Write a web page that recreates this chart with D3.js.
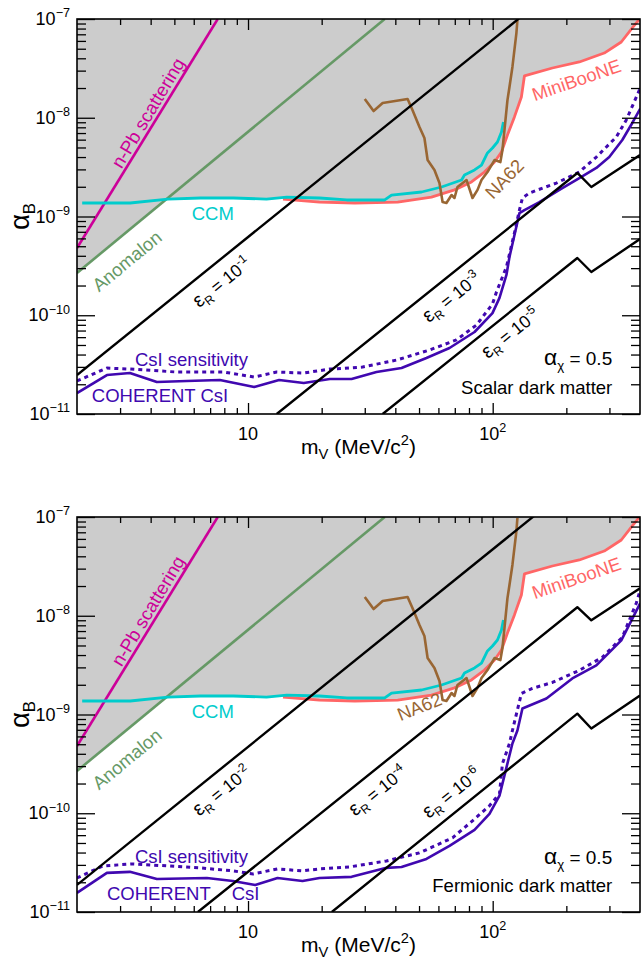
<!DOCTYPE html>
<html>
<head>
<meta charset="utf-8">
<script src="https://cdn.jsdelivr.net/npm/d3@7"></script>
<style>
  body { margin: 0; background: #fff; }
  svg { display: block; font-family: "Liberation Sans", Arial, Helvetica, sans-serif; }
</style>
</head>
<body>
<div id="chart"></div>
<script>
// axis ranges and tick labels
const massDomain = [2, 400];
const alphaDomain = [1e-11, 1e-7];
const massMajorTicks = [10, 100];
const massTickLabels = [["10", null], ["10", "2"]];
const alphaMajorTicks = [1e-11, 1e-10, 1e-9, 1e-8, 1e-7];
const alphaTickLabels = ["−11", "−10", "−9", "−8", "−7"];

// existing constraints, [m_V (MeV), alpha_B] (same in both panels)
const nPbScattering = [[2, 4.8e-10], [7.52, 1.0e-7]];
const anomalon = [[2, 2.68e-10], [36.2, 1.0e-7]];
const ccm = [[2.1, 1.37e-9], [3.3, 1.37e-9], [4.7, 1.50e-9], [6.4, 1.54e-9], [8.7, 1.54e-9], [11.9, 1.50e-9],
  [14.4, 1.57e-9], [19.6, 1.54e-9], [25.3, 1.47e-9], [36.2, 1.47e-9], [38.6, 1.65e-9], [51.2, 1.77e-9],
  [61.8, 1.99e-9], [74.6, 2.34e-9], [76.7, 2.63e-9], [84.3, 2.96e-9], [90.0, 3.32e-9], [95.2, 4.40e-9],
  [99.8, 4.94e-9], [104.6, 5.68e-9], [108.6, 7.17e-9], [110.6, 9.06e-9]];
const miniBooNE = [[13.9, 1.50e-9], [19.6, 1.40e-9], [27.3, 1.37e-9], [40.9, 1.40e-9], [56.2, 1.57e-9],
  [69.8, 1.86e-9], [81.9, 2.24e-9], [92.5, 2.82e-9], [101.7, 3.56e-9], [108.6, 4.50e-9], [114.9, 6.69e-9],
  [122.7, 1.02e-8], [131.0, 1.62e-8], [134.8, 2.65e-8], [175.4, 3.19e-8], [226, 3.67e-8], [285.8, 4.52e-8],
  [335.4, 5.85e-8], [372, 8.11e-8], [401, 1.02e-7]];
const na62 = [[30.0, 1.55e-8], [32.6, 1.17e-8], [35.5, 1.41e-8], [44.9, 1.55e-8], [47.0, 1.20e-8],
  [50.2, 8.06e-9], [52.6, 6.24e-9], [54.2, 3.73e-9], [57.8, 2.96e-9], [60.6, 2.18e-9], [62.4, 1.40e-9],
  [64.7, 1.37e-9], [67.9, 1.65e-9], [69.8, 1.54e-9], [71.8, 1.99e-9], [78.2, 2.34e-9], [82.7, 1.54e-9],
  [86.7, 1.86e-9], [90.0, 2.34e-9], [95.2, 2.82e-9], [101.7, 3.73e-9], [107.5, 3.56e-9], [109.6, 4.71e-9],
  [111.7, 7.51e-9], [114.9, 1.51e-8], [117.1, 2.05e-8], [120.4, 3.27e-8], [125.0, 7.21e-8], [126.2, 9.77e-8]];

// COHERENT CsI limit and sensitivity, scalar dark matter
const coherentScalar = [[2.0, 1.63e-11], [2.65, 2.48e-11], [3.29, 2.60e-11], [4.24, 2.11e-11], [5.62, 2.16e-11],
  [7.67, 2.21e-11], [10.6, 1.88e-11], [13.4, 2.21e-11], [16.9, 2.06e-11], [21.6, 2.26e-11], [26.5, 2.26e-11],
  [33.5, 2.66e-11], [42.4, 2.92e-11], [53.6, 3.69e-11], [66.6, 4.66e-11], [84.3, 6.77e-11], [99.8, 1.05e-10],
  [106.6, 1.50e-10], [113.8, 2.56e-10], [117.1, 3.89e-10], [128.6, 1.08e-9], [134.8, 1.16e-9], [155.2, 1.40e-9],
  [187.3, 1.86e-9], [226, 2.45e-9], [265.2, 3.10e-9], [299.6, 4.00e-9], [338.6, 5.95e-9], [372, 8.85e-9],
  [401, 1.24e-8]];
const sensitivityScalar = [[2.0, 2.16e-11], [2.65, 2.92e-11], [3.29, 2.85e-11], [5.12, 2.66e-11], [7.96, 2.66e-11],
  [10.6, 2.37e-11], [13.1, 2.66e-11], [16.9, 2.60e-11], [21.6, 2.85e-11], [29.4, 2.99e-11], [40.5, 3.52e-11],
  [55.2, 4.45e-11], [71.1, 5.62e-11], [85.8, 7.96e-11], [99.8, 1.30e-10], [103.6, 1.72e-10], [113.8, 3.08e-10],
  [122.7, 6.81e-10], [128.6, 1.16e-9], [132.3, 1.54e-9], [141.3, 1.73e-9], [182, 2.18e-9], [226, 2.82e-9],
  [265.2, 4.00e-9], [320, 6.38e-9], [351.6, 9.49e-9], [401, 2.0e-8]];

// COHERENT CsI limit and sensitivity, fermionic dark matter
const coherentFermion = [[2.0, 1.56e-11], [2.65, 2.49e-11], [3.29, 2.55e-11], [4.24, 2.16e-11], [6.79, 2.21e-11],
  [8.67, 2.06e-11], [10.7, 1.88e-11], [13.2, 2.21e-11], [16.7, 2.06e-11], [19.6, 2.21e-11], [26.5, 2.27e-11],
  [36.8, 2.80e-11], [42.4, 2.86e-11], [53.6, 3.45e-11], [66.6, 4.68e-11], [84.3, 6.80e-11], [97.0, 9.88e-11],
  [106.6, 1.51e-10], [113.8, 2.90e-10], [120.4, 5.08e-10], [126.2, 6.88e-10], [132.3, 1.15e-9], [165.8, 1.45e-9],
  [211.6, 2.32e-9], [265.2, 3.14e-9], [335.4, 5.64e-9], [401, 1.34e-8]];
const sensitivityFermion = [[2.0, 2.21e-11], [2.55, 2.93e-11], [3.39, 3.07e-11], [6.35, 2.80e-11], [8.67, 2.61e-11],
  [10.5, 2.43e-11], [13.2, 2.73e-11], [16.7, 2.61e-11], [19.6, 2.73e-11], [26.0, 2.86e-11], [36.8, 3.29e-11],
  [50.2, 3.97e-11], [68.5, 5.64e-11], [82.7, 8.39e-11], [97.0, 1.19e-10], [106.6, 1.58e-10], [109.6, 3.18e-10],
  [117.1, 5.08e-10], [120.4, 6.88e-10], [131.0, 1.63e-9], [145.3, 1.84e-9], [175.4, 2.11e-9], [226, 2.80e-9],
  [280.5, 3.79e-9], [338.6, 6.05e-9], [386.1, 1.34e-8], [401, 1.82e-8]];

// relic density lines for several epsilon_R values
const epsScalar = [
  { exp: "-1", points: [[2, 2.48e-11], [128.6, 1.02e-7]] },
  { exp: "-3", points: [[13.1, 1e-11], [221.8, 2.76e-9], [253, 1.99e-9], [400, 4.2e-9]] },
  { exp: "-5", points: [[35.5, 1e-11], [221.8, 3.80e-10], [253, 2.74e-10], [400, 5.92e-10]] }
];
const epsFermion = [
  { exp: "-2", points: [[2, 1.88e-11], [150.8, 1.07e-7]] },
  { exp: "-4", points: [[6.24, 1e-11], [221.8, 1.22e-8], [253, 9.0e-9], [400, 1.90e-8]] },
  { exp: "-6", points: [[22.0, 1e-11], [221.8, 1.02e-9], [253, 7.21e-10], [400, 1.56e-9]] }
];

// colours
const colors = {
  nPb: "#cc0099", anomalon: "#669966", ccm: "#00cccc", miniBooNE: "#ff6666",
  na62: "#996633", coherent: "#4008b0", excluded: "#cccccc"
};

const width = 641, height = 961;
const margin = { left: 77 };
const plotW = 563, plotH = 395;
const labelSize = 18.5;

const svg = d3.select("#chart").append("svg")
  .attr("width", width)
  .attr("height", height);

const x = d3.scaleLog().domain(massDomain).range([0, plotW]);
const y = d3.scaleLog().domain(alphaDomain).range([plotH, 0]);

const line = d3.line().x(d => x(d[0])).y(d => y(d[1]));
const areaAbove = d3.area().x(d => x(d[0])).y0(0).y1(d => y(d[1]));

// text with sub/superscripts: parts = [[text, "sup"|"sub"|null, sizeScale]]
function richText(sel, parts, size) {
  let shift = 0;
  parts.forEach(([t, kind, scale]) => {
    let target = 0, fs = size * (scale || 1);
    if (kind === "sup") { target = -0.42 * size; fs = size * 0.7; }
    if (kind === "sub") { target = 0.25 * size; fs = size * 0.7; }
    sel.append("tspan").attr("dy", target - shift).attr("font-size", fs).text(t);
    shift = target;
  });
  return sel;
}

function label(g, { parts, m, a, angle = 0, color = "#000", size = labelSize, anchor = "middle", baseline = false }) {
  const t = g.append("text")
    .attr("transform", `translate(${x(m)},${y(a)}) rotate(${angle})`)
    .attr("y", baseline ? 0 : 0.35 * size)
    .attr("text-anchor", anchor)
    .attr("fill", color)
    .attr("font-size", size);
  richText(t, parts, size);
}

function drawPanel(cfg) {
  const g = svg.append("g").attr("transform", `translate(${margin.left},${cfg.top})`);

  g.append("clipPath").attr("id", `clip-${cfg.id}`)
    .append("rect").attr("width", plotW).attr("height", plotH);
  const plot = g.append("g").attr("clip-path", `url(#clip-${cfg.id})`);

  // excluded region: everything above anomalon / CCM / MiniBooNE
  [anomalon, ccm, miniBooNE].forEach(c => {
    plot.append("path").attr("d", areaAbove(c)).attr("fill", colors.excluded);
  });

  const curve = (data, color, w = 2.6, dash = null) => plot.append("path")
    .attr("d", line(data))
    .attr("fill", "none")
    .attr("stroke", color)
    .attr("stroke-width", w)
    .attr("stroke-dasharray", dash)
    .attr("stroke-linejoin", "round");

  curve(nPbScattering, colors.nPb);
  curve(anomalon, colors.anomalon);
  curve(miniBooNE, colors.miniBooNE, 2.8);
  curve(ccm, colors.ccm, 2.8);
  curve(na62, colors.na62);
  curve(cfg.sensitivity, colors.coherent, 3, "4,4");
  curve(cfg.coherent, colors.coherent, 2.6);
  cfg.eps.forEach(e => curve(e.points, "#000", 2.4));

  // ticks on all four sides, pointing inwards
  const tickGroup = (axis, tr) => {
    const a = g.append("g").attr("transform", tr).call(axis);
    a.select(".domain").remove();
    a.selectAll("text").remove();
    a.selectAll("line").attr("stroke", "#000").attr("stroke-width", 1.3);
  };
  const massMinor = x.ticks().filter(v => !massMajorTicks.includes(v) && v > massDomain[0] && v < massDomain[1]);
  const alphaMinor = y.ticks().filter(v => !alphaMajorTicks.some(t => Math.abs(t - v) / t < 1e-6));

  tickGroup(d3.axisBottom(x).tickValues(massMajorTicks).tickSize(-11), `translate(0,${plotH})`);
  tickGroup(d3.axisBottom(x).tickValues(massMinor).tickSize(-6), `translate(0,${plotH})`);
  tickGroup(d3.axisTop(x).tickValues(massMajorTicks).tickSize(-11), "translate(0,0)");
  tickGroup(d3.axisTop(x).tickValues(massMinor).tickSize(-6), "translate(0,0)");
  tickGroup(d3.axisLeft(y).tickValues(alphaMajorTicks).tickSize(-18), "translate(0,0)");
  tickGroup(d3.axisLeft(y).tickValues(alphaMinor).tickSize(-9), "translate(0,0)");
  tickGroup(d3.axisRight(y).tickValues(alphaMajorTicks).tickSize(-18), `translate(${plotW},0)`);
  tickGroup(d3.axisRight(y).tickValues(alphaMinor).tickSize(-9), `translate(${plotW},0)`);

  g.append("rect")
    .attr("width", plotW).attr("height", plotH)
    .attr("fill", "none").attr("stroke", "#000").attr("stroke-width", 1.6);

  // tick labels
  alphaMajorTicks.forEach((v, i) => {
    const t = g.append("text")
      .attr("x", -7).attr("y", y(v) + 6)
      .attr("text-anchor", "end").attr("font-size", 18);
    richText(t, [["10"], [alphaTickLabels[i], "sup"]], 18);
  });
  massMajorTicks.forEach((v, i) => {
    const [base, sup] = massTickLabels[i];
    const t = g.append("text")
      .attr("x", x(v)).attr("y", plotH + 26)
      .attr("text-anchor", "middle").attr("font-size", 18);
    richText(t, sup ? [[base], [sup, "sup"]] : [[base]], 18);
  });

  // axis titles
  richText(g.append("text")
    .attr("x", plotW / 2).attr("y", plotH + 40)
    .attr("text-anchor", "middle").attr("font-size", 21),
    [["m"], ["V", "sub"], [" (MeV/c"], ["2", "sup"], [")"]], 21);
  richText(g.append("text")
    .attr("transform", `translate(-48,${plotH / 2}) rotate(-90)`)
    .attr("text-anchor", "middle").attr("font-size", 24),
    [["α", null, 1.15], ["B", "sub"]], 24);

  // curve labels
  label(g, { parts: [["n-Pb scattering"]], m: 3.90, a: 1.12e-8, angle: -59, color: colors.nPb });
  label(g, { parts: [["Anomalon"]], m: 3.20, a: 3.54e-10, angle: -39.5, color: colors.anomalon });
  label(g, { parts: [["CCM"]], m: 7.18, a: 1.08e-9, color: colors.ccm });
  label(g, { parts: [["MiniBooNE"]], m: 220, a: 2.41e-8, angle: -19, color: colors.miniBooNE });
  label(g, { parts: [["NA62"]], ...cfg.na62Label, color: colors.na62 });
  cfg.eps.forEach((e, i) => {
    label(g, { parts: [["ε", null, 1.15], ["R", "sub"], [" = 10"], [e.exp, "sup"]],
      m: cfg.epsLabels[i][0], a: cfg.epsLabels[i][1], angle: -38.8, size: 17.5 });
  });
  label(g, { parts: [["CsI sensitivity"]], m: 3.45, a: cfg.sensLabelAlpha, anchor: "start",
    baseline: true, color: colors.coherent });
  cfg.coherentLabels.forEach(([txt, m]) => {
    label(g, { parts: [[txt]], m, a: 1.32e-11, anchor: "start", baseline: true, color: colors.coherent });
  });
  label(g, { parts: [["α", null, 1.2], ["χ", "sub"], [" = 0.5"]], m: 308, a: cfg.alphaChiAlpha,
    anchor: "end", baseline: true, size: 19 });
  label(g, { parts: [[cfg.dmLabel]], m: 308, a: 1.6e-11, anchor: "end", baseline: true });
}

drawPanel({
  id: "scalar", top: 19, dmLabel: "Scalar dark matter",
  coherent: coherentScalar, sensitivity: sensitivityScalar, eps: epsScalar,
  epsLabels: [[7.81, 2.17e-10], [67.9, 1.53e-10], [118.1, 6.6e-11]],
  na62Label: { m: 111.6, a: 2.40e-9, angle: -46 },
  sensLabelAlpha: 3.06e-11, alphaChiAlpha: 3.13e-11,
  coherentLabels: [["COHERENT CsI", 2.30]]
});

drawPanel({
  id: "fermion", top: 517, dmLabel: "Fermionic dark matter",
  coherent: coherentFermion, sensitivity: sensitivityFermion, eps: epsFermion,
  epsLabels: [[7.81, 1.69e-10], [33.9, 1.69e-10], [67.9, 1.61e-10]],
  na62Label: { m: 50.2, a: 1.20e-9, angle: -22 },
  sensLabelAlpha: 3.14e-11, alphaChiAlpha: 3.07e-11,
  coherentLabels: [["COHERENT", 2.65], ["CsI", 8.58]]
});
</script>
</body>
</html>
